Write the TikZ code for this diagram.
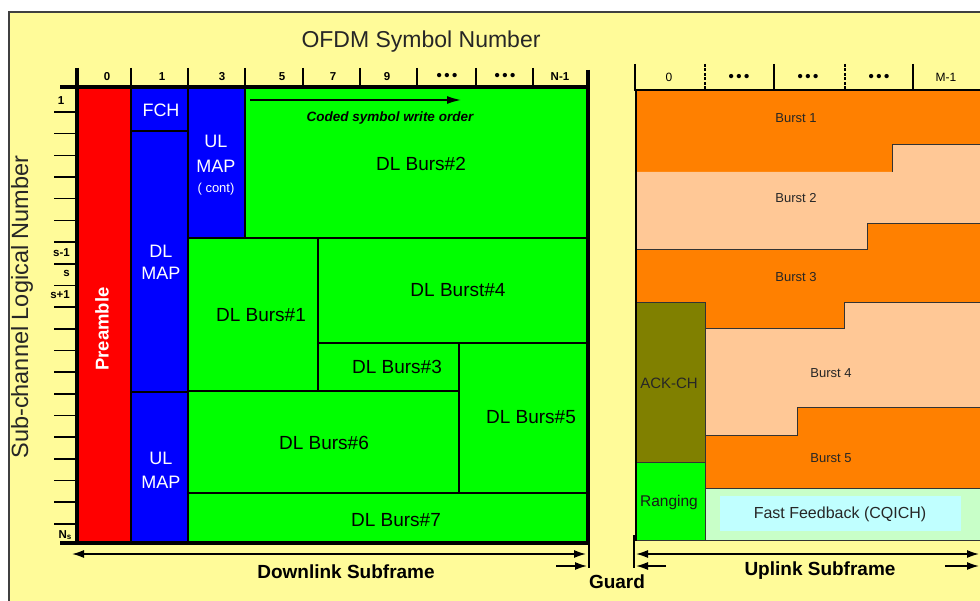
\documentclass[tikz,border=0pt]{standalone}
\usepackage{fontspec}
\setmainfont{Liberation Sans}
\usetikzlibrary{arrows.meta}
\definecolor{bgy}{HTML}{FFFB99}
\definecolor{dlgreen}{HTML}{00FF00}
\definecolor{dlblue}{HTML}{0000FF}
\definecolor{prered}{HTML}{FF0000}
\definecolor{ora}{HTML}{FF8000}
\definecolor{peach}{HTML}{FFC896}
\definecolor{olv}{HTML}{808000}
\definecolor{ffg}{HTML}{C8FFC8}
\definecolor{ffc}{HTML}{C0FFFF}
\definecolor{frm}{HTML}{404040}
\newcommand\fsz[1]{\fontsize{#1}{#1}\selectfont}
\newcommand\fszb[2]{\fontsize{#1}{#2}\selectfont}
\begin{document}
\begin{tikzpicture}[x=1pt,y=-1pt,
  >={Latex[length=12pt,width=8pt]},
  blk/.style={draw=black,line width=1.5pt},
  lbl/.style={inner sep=0pt,font=\fsz{19}},
  wlbl/.style={inner sep=0pt,text=white,font=\fsz{18},align=center},
  dtick/.style={line width=1.5pt},
  tnum/.style={inner sep=0pt,font=\bfseries\fsz{11.5}},
  dotsl/.style={inner sep=0pt,font=\bfseries\fsz{15}},
  unum/.style={inner sep=0pt,font=\fsz{12}},
  ulline/.style={draw=black!80,line width=1pt},
  bl/.style={inner sep=0pt,font=\fsz{13},text=black!85},
  arr/.style={line width=1.5pt},
  captxt/.style={inner sep=0pt,font=\bfseries\fsz{19}},
]
\useasboundingbox (0,0) rectangle (980,601);
\fill[white] (0,0) rectangle (980,601);
\fill[bgy] (9,12) rectangle (980,601);
\draw[frm,line width=1.5pt] (9,601) -- (9,12) -- (980,12);

% ---------- Downlink blocks ----------
\path[blk,fill=prered] (77,87) rectangle (131,543);
\path[blk,fill=dlblue] (131,87) rectangle (188,131);
\path[blk,fill=dlblue] (131,131) rectangle (188,392);
\path[blk,fill=dlblue] (131,392) rectangle (188,543);
\path[blk,fill=dlblue] (188,87) rectangle (245,238);
\path[blk,fill=dlgreen] (245,87) rectangle (588,238);
\path[blk,fill=dlgreen] (188,238) rectangle (318,391);
\path[blk,fill=dlgreen] (318,238) rectangle (588,343);
\path[blk,fill=dlgreen] (318,343) rectangle (459,391);
\path[blk,fill=dlgreen] (459,343) rectangle (588,493);
\path[blk,fill=dlgreen] (188,391) rectangle (459,493);
\path[blk,fill=dlgreen] (188,493) rectangle (588,543);
\draw[line width=2.5pt] (131,392) -- (188,392);

% thick frame / axes
\draw[line width=4pt] (77,68) -- (77,545);
\draw[line width=4pt] (60,87) -- (590,87);
\draw[line width=4pt] (588,70) -- (588,545);
\draw[line width=4pt] (60,543) -- (590,543);
\foreach \x in {131,188,245,303,360,417,476,533} \draw[dtick] (\x,68) -- (\x,87);
\foreach \k in {0,...,19} \draw[dtick] (54,112+21.68*\k) -- (77,112+21.68*\k);

% top tick labels
\node[tnum] (t0) at (107,77) {0};
\node[tnum] (t1) at (162,77) {1};
\node[tnum] (t3) at (222,77) {3};
\node[tnum] (t5) at (282,77) {5};
\node[tnum] (t7) at (333,77) {7};
\node[tnum] (t9) at (387,77) {9};
\node[dotsl] (td1) at (447,77) {\textbullet\,\textbullet\,\textbullet};
\node[dotsl] (td2) at (505,77) {\textbullet\,\textbullet\,\textbullet};
\node[tnum] (tn) at (560,77) {N-1};
% left tick labels
\node[tnum] (l1) at (61,101) {1};
\node[tnum,anchor=east] (ls1) at (70,253) {s-1};
\node[tnum,anchor=east] (ls) at (70,273) {s};
\node[tnum,anchor=east] (ls2) at (70,295) {s+1};
\node[tnum,anchor=east] (lns) at (72,535) {N$_\mathbf{s}$};

% axis titles
\node[inner sep=0pt,font=\fsz{23},text=black!85] (title) at (421,42) {OFDM Symbol Number};
\node[inner sep=0pt,font=\fsz{23.5},text=black!85,rotate=90] (ytitle) at (22,307) {Sub-channel Logical Number};

% DL labels
\node[inner sep=0pt,rotate=90,text=white,font=\bfseries\fsz{18.5}] (pre) at (102,329) {Preamble};
\node[wlbl] (fch) at (161,110) {FCH};
\node[wlbl,font=\fszb{18}{22}] (dlmap) at (161,262) {DL\\MAP};
\node[wlbl,font=\fszb{18}{24}] (ulmap) at (161,470) {UL\\MAP};
\node[wlbl] (ulc1) at (216,141) {UL};
\node[wlbl] (ulc2) at (216,166) {MAP};
\node[wlbl,font=\fsz{13}] (ulc3) at (216,189) {( cont)};
\coordinate (cw1) at (250,100);
\coordinate (cw2) at (461,100);
\draw[arr,-{Latex[length=14pt,width=8pt]}] (cw1) -- (cw2);
\node[inner sep=0pt,font=\bfseries\itshape\fsz{13.5}] (cwo) at (390,118) {Coded symbol write order};
\node[lbl] (b2) at (421,164) {DL Burs\#2};
\node[lbl] (b1) at (261,315) {DL Burs\#1};
\node[lbl] (b4) at (458,290) {DL Burst\#4};
\node[lbl] (b3) at (397,367) {DL Burs\#3};
\node[lbl] (b5) at (531,417) {DL Burs\#5};
\node[lbl] (b6) at (324,443) {DL Burs\#6};
\node[lbl] (b7) at (396,520) {DL Burs\#7};

% ---------- Uplink ----------
\fill[ora] (636,91) -- (980,91) -- (980,145) -- (892,145) -- (892,172) -- (636,172) -- cycle;
\fill[peach] (636,172) -- (892,172) -- (892,145) -- (980,145) -- (980,224) -- (867,224) -- (867,250) -- (636,250) -- cycle;
\fill[ora] (636,250) -- (867,250) -- (867,224) -- (980,224) -- (980,303) -- (844,303) -- (844,329) -- (705,329) -- (705,303) -- (636,303) -- cycle;
\fill[peach] (705,329) -- (844,329) -- (844,303) -- (980,303) -- (980,408) -- (797,408) -- (797,435) -- (705,435) -- cycle;
\fill[ora] (705,435) -- (797,435) -- (797,408) -- (980,408) -- (980,488) -- (705,488) -- cycle;
\fill[ffg] (705,488) rectangle (980,540);
\fill[ffc] (720,496) rectangle (961,531);
\fill[olv] (636,303) rectangle (705,462);
\fill[dlgreen] (636,462) rectangle (705,540);
\draw[ulline] (892,172) -- (892,145) -- (980,145);
\draw[ulline] (636,250) -- (867,250) -- (867,224) -- (980,224);
\draw[ulline] (636,303) -- (705,303) -- (705,540);
\draw[ulline] (705,329) -- (844,329) -- (844,303) -- (980,303);
\draw[ulline] (705,435) -- (797,435) -- (797,408) -- (980,408);
\draw[ulline] (705,488) -- (980,488);
\draw[ulline] (636,462) -- (705,462);
\draw[ulline] (636,540) -- (980,540);
\draw[line width=1.5pt] (636,91) -- (636,541);
\draw[line width=2.5pt] (635,64) -- (635,91);
\draw[line width=2pt] (634,90.5) -- (980,90.5);
\foreach \x in {774,913} \draw[line width=2pt] (\x,64) -- (\x,90);
\foreach \x in {705,845} \draw[line width=2pt,dash pattern=on 3pt off 1.5pt] (\x,64) -- (\x,90);
\node[unum] (u0) at (669,77) {0};
\node[dotsl] (ud1) at (739,78) {\textbullet\,\textbullet\,\textbullet};
\node[dotsl] (ud2) at (808,78) {\textbullet\,\textbullet\,\textbullet};
\node[dotsl] (ud3) at (879,78) {\textbullet\,\textbullet\,\textbullet};
\node[unum] (um) at (946,77) {M-1};

\node[bl] (u1) at (796,118) {Burst 1};
\node[bl] (u2) at (796,198) {Burst 2};
\node[bl] (u3) at (796,277) {Burst 3};
\node[bl] (u4) at (831,373) {Burst 4};
\node[bl] (u5) at (831,458) {Burst 5};
\node[inner sep=0pt,font=\fsz{15},text=black!85] (ack) at (669,383) {ACK-CH};
\node[inner sep=0pt,font=\fsz{15.5},text=black!90] (rng) at (669,502) {Ranging};
\node[inner sep=0pt,font=\fsz{16},text=black!85] (ff) at (840,514) {Fast Feedback (CQICH)};

% ---------- bottom arrows ----------
\coordinate (dlA) at (72,554);
\coordinate (dlB) at (586,554);
\draw[arr,<->] (dlA) -- (dlB);
\coordinate (g1a) at (556,566);
\coordinate (g1b) at (587,566);
\draw[arr,->] (g1a) -- (g1b);
\draw[line width=1.5pt] (589,543) -- (589,568);
\draw[line width=1.5pt] (634,535) -- (634,568);
\coordinate (ulA) at (636,554);
\coordinate (ulB) at (979,554);
\draw[arr,<->] (ulA) -- (ulB);
\coordinate (g2a) at (666,566);
\coordinate (g2b) at (636,566);
\draw[arr,->] (g2a) -- (g2b);
\coordinate (g3a) at (945,566);
\coordinate (g3b) at (979,566);
\draw[arr,->] (g3a) -- (g3b);
\node[captxt] (dlsub) at (346,572) {Downlink Subframe};
\node[captxt] (guard) at (617,582) {Guard};
\node[captxt] (ulsub) at (820,571) {Uplink Subframe};
\end{tikzpicture}
\end{document}
